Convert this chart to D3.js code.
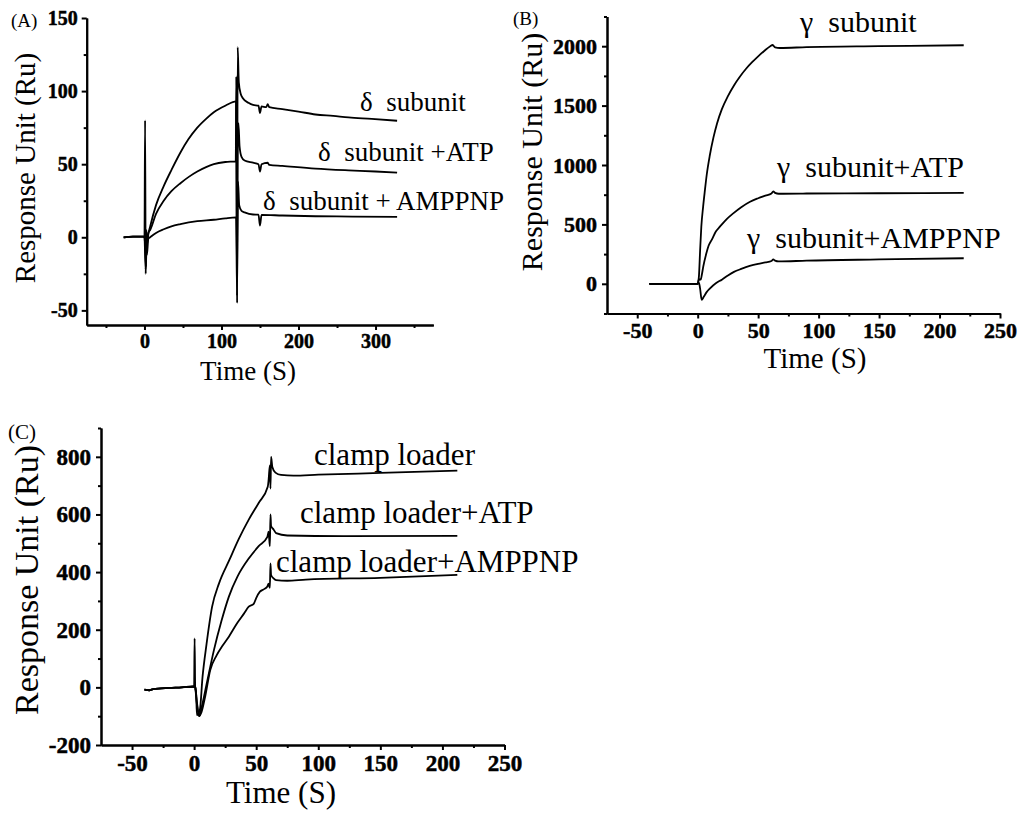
<!DOCTYPE html>
<html>
<head>
<meta charset="utf-8">
<script src="https://cdn.jsdelivr.net/npm/d3@7"></script>
<style>
  body { margin: 0; background: #fff; }
  svg { display: block; }
  text { font-family: "Liberation Serif", "Times New Roman", serif; fill: #000; }
</style>
</head>
<body>
<svg id="chart" width="1020" height="815"></svg>
<script>
// ---- panel A : delta subunit (time s, response RU) ----
var deltaSubunit = [[-27,0],[-15,0.5],[-1,0.5],[0,0],[0.8,80],[1.6,-25],[2.4,5],[3.2,-5],[5,2],[7.4,7.4],[15,22],[25,35],[35,46],[46.7,58],[57,67],[68.6,75],[80,81],[90,85.5],[105,90],[119,93],[120.3,-45],[121,130],[122.5,106],[125,98],[128,95],[135,92],[141,90.5],[148,90],[150,85],[152,89.5],[158,89],[160,91],[162,89],[179,87.7],[200,86],[222,84],[245,83],[265,82],[295,81],[328,79.7]];
var deltaATP = [[-27,0],[-15,0.5],[-1,0.5],[0,0],[1.2,-10],[2,-20],[2.8,0],[3.5,-3],[5,3],[7.4,5],[15,16],[25,25],[35,31.5],[46.7,37],[58,41.5],[68.6,45],[80,48],[90,50],[105,51.5],[118.5,52],[119.2,110],[120,-30],[121,60],[122,78],[123.5,62],[126,55],[130,52.5],[141,51],[148,50],[150,45],[152,50],[160,51],[162,49.5],[179,48.8],[222,47],[265,45.8],[300,45],[328,44.2]];
var deltaAMPPNP = [[-27,0],[-15,0.5],[-1,0.5],[0,0],[1.5,-22],[2.5,-8],[3.2,-12],[5,-1],[7.4,0],[15,3],[25,5.5],[35,7.5],[46.7,9],[68.6,11],[90,12],[105,13],[119,13.6],[120.2,-40],[121.5,38],[123,22],[126,18],[130,17],[141,15.6],[148,15.5],[150,8],[152,15.3],[179,14.9],[222,14.4],[270,14.2],[328,14]];
var deltaLabels = ['δ\u00a0\u00a0subunit', 'δ\u00a0\u00a0subunit +ATP', 'δ\u00a0\u00a0subunit + AMPPNP'];

// ---- panel B : gamma subunit ----
var gammaSubunit = [[-40,0],[0,0],[1,60],[2,280],[3,480],[4.5,650],[6,790],[7.5,920],[10,1080],[13,1230],[16,1350],[20,1470],[25,1580],[30,1670],[35,1745],[40,1810],[45,1865],[50,1915],[55,1960],[60,2000],[62,2010],[64,1990],[68,1985],[90,1992],[150,2000],[220,2008]];
var gammaATP = [[-40,0],[0,0],[1,40],[2.5,35],[3.5,80],[4.6,144],[7,250],[9,320],[11.6,370],[15,440],[18.4,481],[24,545],[29.4,593],[36,645],[43.3,691],[50,720],[56,742],[61,760],[62.5,778],[64,765],[67,758],[90,760],[150,762],[220,765]];
var gammaAMPPNP = [[-40,0],[0,0],[1,10],[2,-40],[3.3,-135],[5,-110],[7.4,-70],[10,-40],[15,5],[20,35],[25,70],[30,100],[36,125],[43,150],[50,168],[56,180],[61,192],[62.5,205],[64,195],[67,188],[90,195],[150,205],[220,215]];
var gammaLabels = ['γ\u00a0\u00a0subunit', 'γ\u00a0\u00a0subunit+ATP', 'γ\u00a0\u00a0subunit+AMPPNP'];

// ---- panel C : clamp loader ----
var clampLoader = [[-40,-8],[-36,-10],[-33,-6],[-20,-2],[-10,0],[0,3],[0.4,170],[0.9,-10],[1.5,0],[2.2,-96],[4.6,-79],[6.8,37],[10,150],[14.5,280],[20,360],[28.4,442],[36,515],[43.9,581],[52,640],[59.3,696],[60,720],[61,770],[61.5,690],[62,800],[63,765],[65.5,745],[70,737],[80,735],[100,738],[150,744],[212,752]];
var clampATP = [[-40,-8],[-36,-10],[-33,-6],[-20,-2],[-10,0],[0,3],[0.8,0],[2.5,-60],[4,-100],[6,-70],[10,10],[16,130],[22,230],[28,315],[35,385],[44,447],[52,490],[59,522],[60,540],[61,490],[61.5,600],[62,560],[64,548],[66,535],[75,527],[120,525],[212,526]];
var clampAMPPNP = [[-40,-8],[-36,-10],[-33,-6],[-20,-2],[-10,0],[0,3],[0.8,0],[2,-50],[4,-100],[6,-85],[9,-30],[13,60],[18,110],[23,145],[28,176],[35,225],[40,255],[44,280],[48,290],[50,310],[53,332],[56,340],[59,350],[60,360],[61,345],[61.5,430],[62,390],[64,378],[66,372],[75,370],[90,374],[150,380],[212,390]];
var clampLabels = ['clamp loader', 'clamp loader+ATP', 'clamp loader+AMPPNP'];

// ticks
var aXTicks = [0, 100, 200, 300], aXMinor = [-50, 50, 150, 250, 350];
var aYTicks = [-50, 0, 50, 100, 150], aYMinor = [-25, 25, 75, 125];
var bXTicks = [-50, 0, 50, 100, 150, 200, 250], bXMinor = [-25, 25, 75, 125, 175, 225];
var bYTicks = [0, 500, 1000, 1500, 2000], bYMinor = [-250, 250, 750, 1250, 1750, 2250];
var cXTicks = [-50, 0, 50, 100, 150, 200, 250], cXMinor = [-25, 25, 75, 125, 175, 225];
var cYTicks = [-200, 0, 200, 400, 600, 800], cYMinor = [-100, 100, 300, 500, 700, 900];

var SERIF = '"Liberation Serif", "Times New Roman", serif';
var svg = d3.select('#chart');

function drawPanel(p) {
    var x = d3.scaleLinear().domain(p.xDomain).range(p.xRange);
    var y = d3.scaleLinear().domain(p.yDomain).range(p.yRange);
    var g = svg.append('g');
    var fmt = function(d) { return String(d); };

    // minor ticks first, then the main axes on top
    g.append('g').attr('transform', 'translate(0,' + p.yRange[0] + ')')
        .call(d3.axisBottom(x).tickValues(p.xMinor).tickSize(3).tickSizeOuter(0).tickFormat(''));
    g.append('g').attr('transform', 'translate(' + p.xRange[0] + ',0)')
        .call(d3.axisLeft(y).tickValues(p.yMinor).tickSize(3).tickSizeOuter(0).tickFormat(''));

    g.append('g').attr('class', 'ax').attr('transform', 'translate(0,' + p.yRange[0] + ')')
        .call(d3.axisBottom(x).tickValues(p.xTicks).tickSize(5).tickSizeOuter(0).tickPadding(p.xPad).tickFormat(fmt));
    g.append('g').attr('class', 'ax').attr('transform', 'translate(' + p.xRange[0] + ',0)')
        .call(d3.axisLeft(y).tickValues(p.yTicks).tickSize(5).tickSizeOuter(0).tickPadding(p.yPad).tickFormat(fmt));

    g.selectAll('.domain, .tick line').attr('stroke-width', 2).attr('stroke', '#000');
    // scanned figure: heavy bold digits
    g.selectAll('.ax .tick text')
        .style('font-family', SERIF)
        .style('font-weight', 'bold')
        .style('font-size', p.tickFont + 'px')
        .attr('stroke', '#000')
        .attr('stroke-width', 0.5);

    var line = d3.line()
        .x(function(d) { return x(d[0]); })
        .y(function(d) { return y(d[1]); })
        .curve(d3.curveMonotoneX);

    g.selectAll('path.series').data(p.series).enter().append('path')
        .attr('class', 'series')
        .attr('d', line)
        .attr('fill', 'none')
        .attr('stroke', '#000')
        .attr('stroke-width', 1.8)
        .attr('stroke-linejoin', 'round');

    g.selectAll('text.note').data(p.labels).enter().append('text')
        .attr('class', 'note')
        .attr('x', function(d, i) { return p.notePos[i][0]; })
        .attr('y', function(d, i) { return p.notePos[i][1]; })
        .attr('font-size', p.noteFont)
        .text(function(d) { return d; });

    g.append('text')
        .attr('x', p.tag[0]).attr('y', p.tag[1])
        .attr('font-size', p.tag[2])
        .text(p.tag[3]);

    g.append('text')
        .attr('transform', 'translate(' + p.yTitle[0] + ',' + p.yTitle[1] + ') rotate(-90)')
        .attr('text-anchor', 'middle')
        .attr('font-size', p.yTitle[2])
        .text('Response Unit (Ru)');

    g.append('text')
        .attr('x', p.xTitle[0]).attr('y', p.xTitle[1])
        .attr('text-anchor', 'middle')
        .attr('font-size', p.xTitle[2])
        .text('Time (S)');
}

drawPanel({
    xDomain: [-75, 375], xRange: [86.7, 433.3],
    yDomain: [-60, 150], yRange: [325, 18],
    xTicks: aXTicks, xMinor: aXMinor, yTicks: aYTicks, yMinor: aYMinor,
    xPad: 4, yPad: 4, tickFont: 20,
    series: [deltaSubunit, deltaATP, deltaAMPPNP],
    labels: deltaLabels, notePos: [[360, 111], [318, 161], [263, 210]], noteFont: 27,
    tag: [11, 27, 19, '(A)'],
    yTitle: [35, 168, 29], xTitle: [248, 380, 27]
});

drawPanel({
    xDomain: [-75, 250], xRange: [607, 1000],
    yDomain: [-250, 2250], yRange: [313.5, 16.5],
    xTicks: bXTicks, xMinor: bXMinor, yTicks: bYTicks, yMinor: bYMinor,
    xPad: 4, yPad: 5, tickFont: 22,
    series: [gammaSubunit, gammaATP, gammaAMPPNP],
    labels: gammaLabels, notePos: [[800, 32], [777, 177], [747, 248]], noteFont: 30,
    tag: [513, 25, 19, '(B)'],
    yTitle: [542, 152, 30], xTitle: [815, 368, 29]
});

drawPanel({
    xDomain: [-75, 250], xRange: [101, 504.5],
    yDomain: [-200, 900], yRange: [745, 428],
    xTicks: cXTicks, xMinor: cXMinor, yTicks: cYTicks, yMinor: cYMinor,
    xPad: 5, yPad: 5, tickFont: 23,
    series: [clampLoader, clampATP, clampAMPPNP],
    labels: clampLabels, notePos: [[314, 465], [300, 523], [276, 572]], noteFont: 31,
    tag: [8, 439, 21, '(C)'],
    yTitle: [38, 580, 34], xTitle: [281, 803, 31]
});
</script>
</body>
</html>
